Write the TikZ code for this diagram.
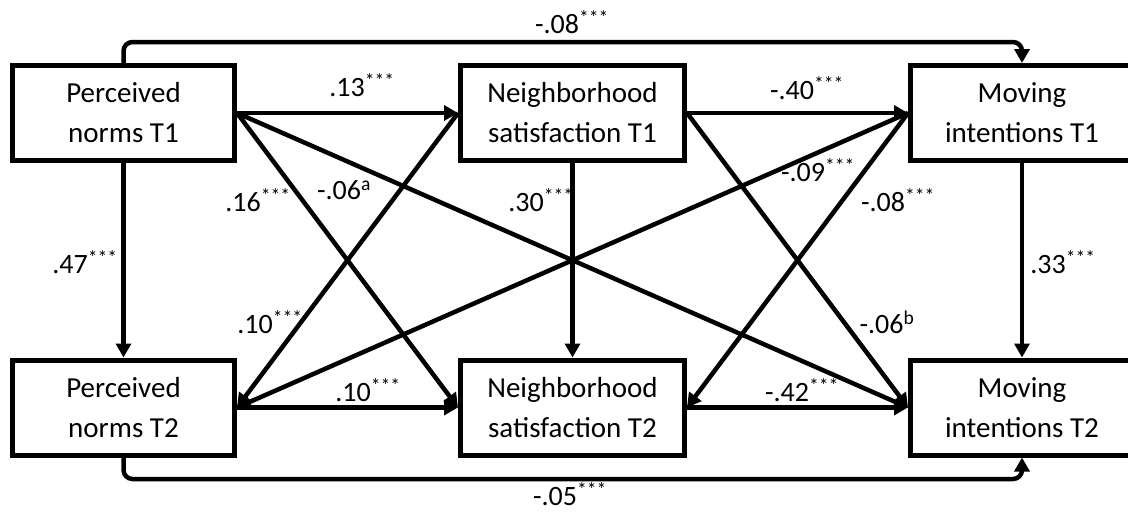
\documentclass[tikz,border=0pt]{standalone}
\usepackage{fontspec}
\setmainfont{Carlito}
\usetikzlibrary{arrows.meta}
\begin{document}
\begin{tikzpicture}[x=1pt,y=-1pt,
  box/.style={draw, line width=5pt, minimum height=95pt, inner sep=0pt,
    align=center, font=\fontsize{29}{40}\selectfont},
  conn/.style={line width=4.5pt, -{Triangle[length=14pt,width=15pt]}},
  coef/.style={font=\fontsize{28}{30}\selectfont, inner sep=0pt}
]
\useasboundingbox (0,0) rectangle (1128,512);

% variables at T1 (top) and T2 (bottom)
\node[box, minimum width=222pt] (pn1) at (123.5,113) {Perceived\\norms T1};
\node[box, minimum width=224pt] (ns1) at (572.5,113) {Neighborhood\\satisfaction T1};
\node[box, minimum width=223pt] (mi1) at (1022,113) {Moving\\intentions T1};
\node[box, minimum width=222pt] (pn2) at (123.5,407.5) {Perceived\\norms T2};
\node[box, minimum width=224pt] (ns2) at (572.5,407.5) {Neighborhood\\satisfaction T2};
\node[box, minimum width=223pt] (mi2) at (1022,407.5) {Moving\\intentions T2};

% routing points of the two outer paths
\coordinate (topc) at (600,42);
\coordinate (botc) at (600,479);

% within-time paths
\draw[conn] (pn1.east) -- (ns1.west);
\draw[conn] (ns1.east) -- (mi1.west);
\draw[conn] (pn2.east) -- (ns2.west);
\draw[conn] (ns2.east) -- (mi2.west);
\draw[conn, rounded corners=9pt] (pn1.north) |- (topc) -| (mi1.north);
\draw[conn, rounded corners=9pt] (pn2.south) |- (botc) -| (mi2.south);

% stability paths
\draw[conn] (pn1.south) -- (pn2.north);
\draw[conn] (ns1.south) -- (ns2.north);
\draw[conn] (mi1.south) -- (mi2.north);

% cross-lagged paths
\draw[conn] (pn1.east) -- (ns2.west);
\draw[conn] (pn1.east) -- (mi2.west);
\draw[conn] (ns1.west) -- (pn2.east);
\draw[conn] (ns1.east) -- (mi2.west);
\draw[conn] (mi1.west) -- (pn2.east);
\draw[conn] (mi1.west) -- (ns2.east);

% coefficients
\node[coef] (ctop) at (572,22) {-.08\textsuperscript{***}};
\node[coef] (cbot) at (570,494) {-.05\textsuperscript{***}};
\node[coef] (c13) at (362,85) {.13\textsuperscript{***}};
\node[coef] (c40) at (807,88) {-.40\textsuperscript{***}};
\node[coef] (c10h) at (368,390) {.10\textsuperscript{***}};
\node[coef] (c42) at (802,390) {-.42\textsuperscript{***}};
\node[coef] (c47) at (85,262) {.47\textsuperscript{***}};
\node[coef] (c30) at (541,200) {.30\textsuperscript{***}};
\node[coef] (c33) at (1063,262) {.33\textsuperscript{***}};
\node[coef] (c16) at (258,200) {.16\textsuperscript{***}};
\node[coef] (c06a) at (344,190) {-.06\textsuperscript{a}};
\node[coef] (c10d) at (270,322) {.10\textsuperscript{***}};
\node[coef] (c09) at (818,170) {-.09\textsuperscript{***}};
\node[coef] (c08) at (898,200) {-.08\textsuperscript{***}};
\node[coef] (c06b) at (887,322) {-.06\textsuperscript{b}};
\end{tikzpicture}
\end{document}
